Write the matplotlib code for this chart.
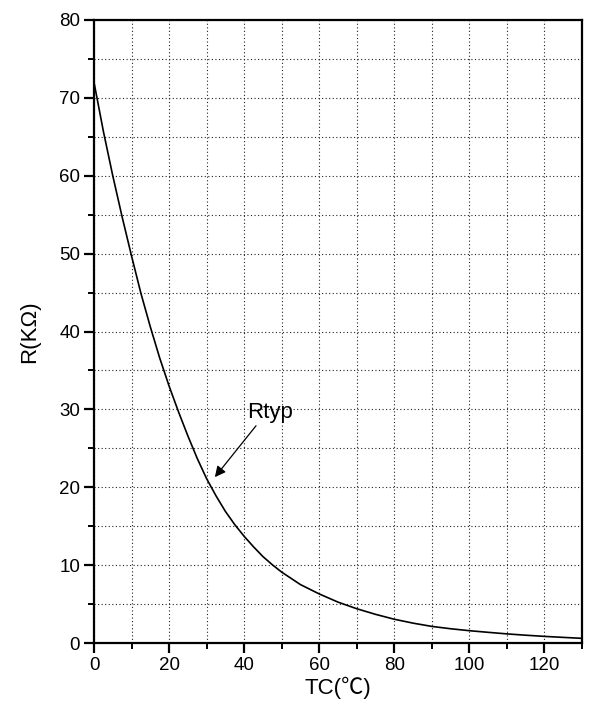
import matplotlib
matplotlib.use("Agg")
import matplotlib.pyplot as plt
from matplotlib.ticker import MultipleLocator

plt.rcParams['font.family'] = ['Liberation Sans', 'Noto Sans CJK SC', 'DejaVu Sans']

temps = [0, 2.5, 5, 7.5, 10, 12.5, 15, 17.5, 20, 22.5, 25, 27.5, 30, 32.5, 35, 37.5,
         40, 42.5, 45, 47.5, 50, 55, 60, 65, 70, 75, 80, 85, 90, 95, 100, 105,
         110, 115, 120, 125, 130]
resist = [72.0, 65.7, 60.0, 54.7, 49.7, 44.9, 40.6, 36.6, 33.0, 29.7, 26.6, 23.7, 21.1,
          18.9, 16.9, 15.2, 13.7, 12.35, 11.1, 10.05, 9.1, 7.5, 6.3, 5.25, 4.4, 3.68,
          3.05, 2.55, 2.13, 1.83, 1.58, 1.37, 1.17, 1.0, 0.85, 0.72, 0.6]

x_label = "TC(℃)"
y_label = "R(KΩ)"
curve_name = "Rtyp"

fig = plt.figure(figsize=(5.94, 7.08), dpi=100)
ax = fig.add_axes([94/594, 65/708, 488/594, 623/708])

ax.plot(temps, resist, color='black', lw=1.2, zorder=3)

ax.set_xlim(0, 130)
ax.set_ylim(0, 80)
ax.xaxis.set_major_locator(MultipleLocator(20))
ax.xaxis.set_minor_locator(MultipleLocator(10))
ax.yaxis.set_major_locator(MultipleLocator(10))
ax.yaxis.set_minor_locator(MultipleLocator(5))

ax.grid(True, which='both', color='#222222', linestyle=(0, (1, 2.2)), lw=0.8)
ax.set_axisbelow(True)

for s in ax.spines.values():
    s.set_linewidth(1.6)
ax.tick_params(which='major', direction='out', length=7, width=1.6, labelsize=13.5, pad=3)
ax.tick_params(which='minor', direction='out', length=4, width=1.4)

ax.set_xlabel(x_label, fontsize=16, labelpad=2)
ax.set_ylabel(y_label, fontsize=16, labelpad=14)

ax.annotate(curve_name, xy=(32.2, 21.3), xytext=(40.7, 29.6),
            fontsize=16, va='center', ha='left',
            arrowprops=dict(arrowstyle='-|>', color='black', lw=0.9,
                            mutation_scale=16, shrinkA=0, shrinkB=0,
                            relpos=(0.25, 0.0)))

fig.savefig("out.png", dpi=100)
